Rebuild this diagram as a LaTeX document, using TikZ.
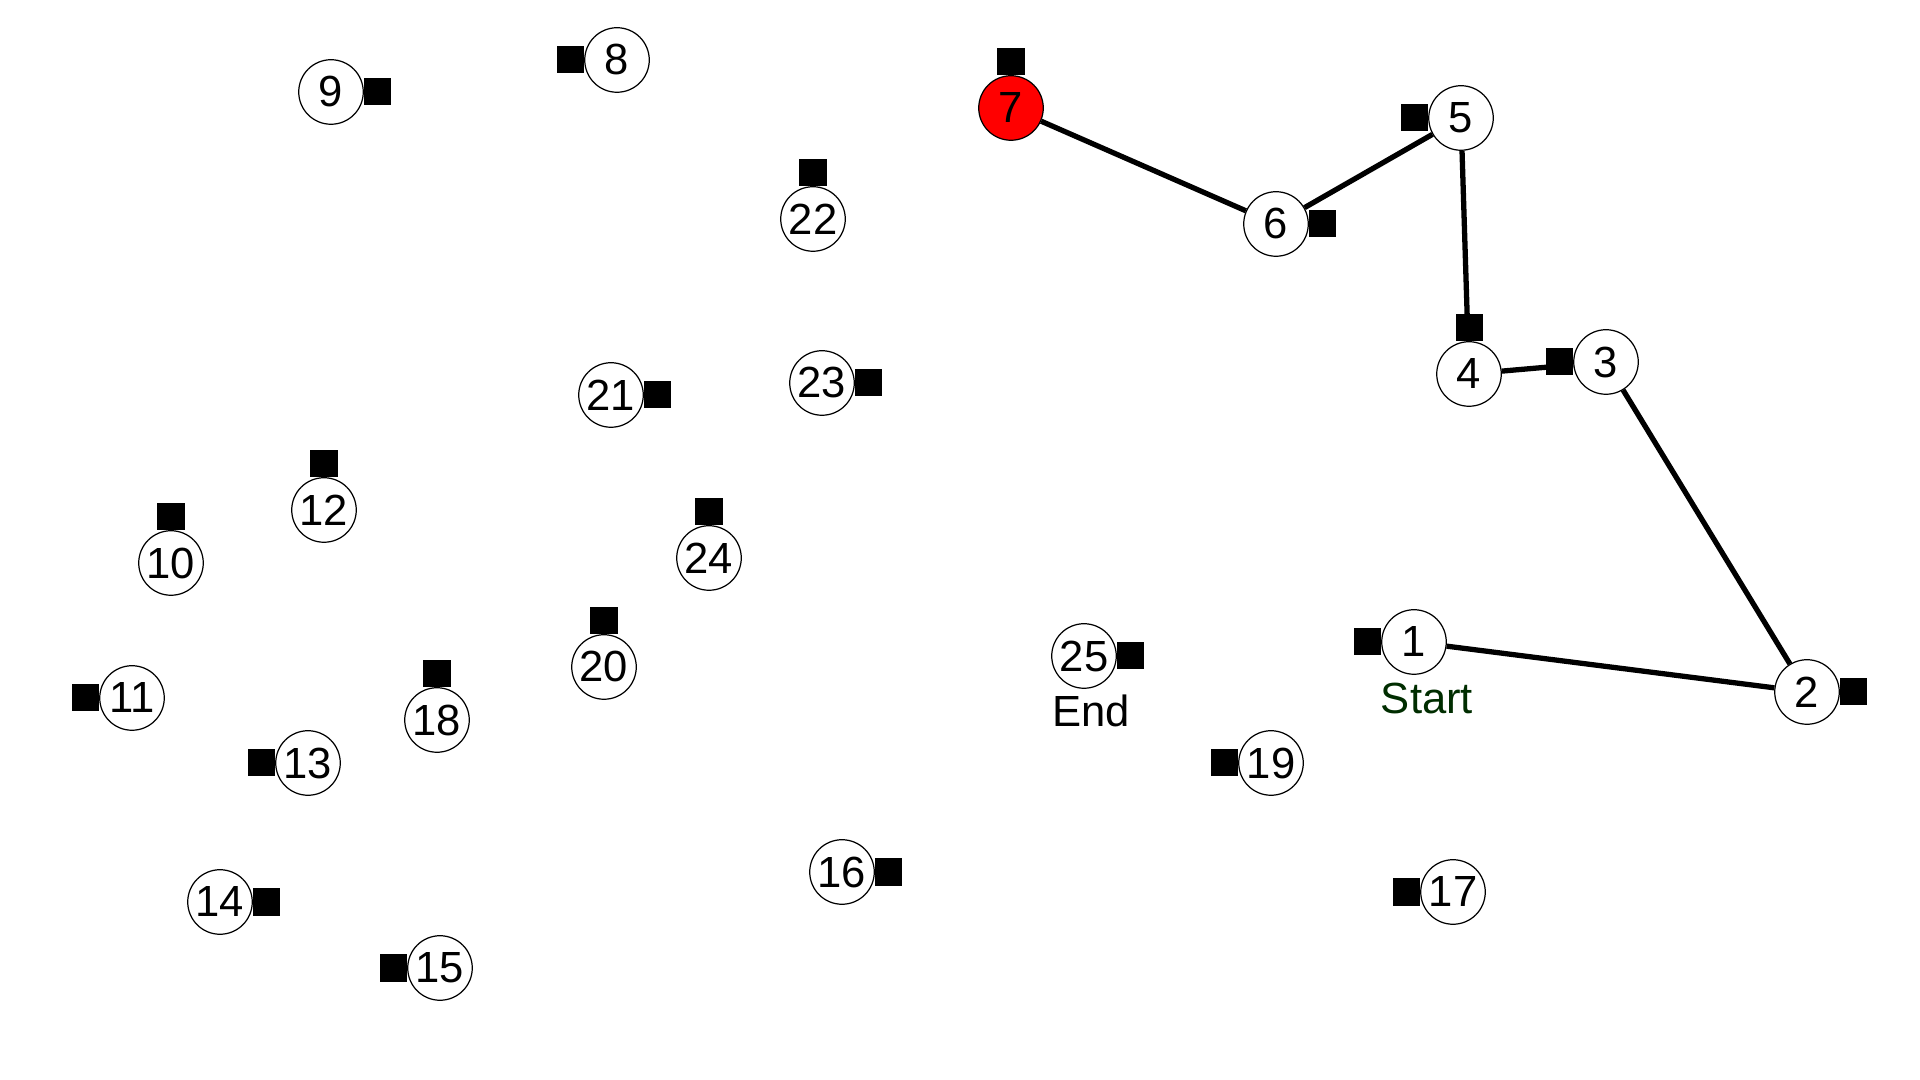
\documentclass[tikz,border=0pt]{standalone}
\usepackage{fontspec}
\setmainfont{Liberation Sans}
\definecolor{startgreen}{RGB}{0,45,0}
\begin{document}
\begin{tikzpicture}[x=0.01cm,y=-0.01cm,
  city/.style={circle,draw=black,line width=0.35pt,fill=white,minimum size=0.645cm,inner sep=0pt,font=\fontsize{12.4}{14}\selectfont},
  visited/.style={city,fill=red},
  depot/.style={fill=black,minimum size=0.27cm,inner sep=0pt,outer sep=0pt},
  route/.style={line width=1.5pt},
  lbl/.style={font=\fontsize{12.4}{14}\selectfont,inner sep=0pt,anchor=base}]
\useasboundingbox (0,0) rectangle (1920,1080);
% cities
\node[city] (n1) at (1414,642) {1};
\node[city] (n2) at (1807,692) {2};
\node[city] (n3) at (1606,362) {3};
\node[city] (n4) at (1469,374) {4};
\node[city] (n5) at (1461,118) {5};
\node[city] (n6) at (1276,224) {6};
\node[visited] (n7) at (1011,108) {7};
\node[city] (n8) at (617,60) {8};
\node[city] (n9) at (331,92) {9};
\node[city] (n10) at (171,563) {10};
\node[city] (n11) at (132,698) {11};
\node[city] (n12) at (324,510) {12};
\node[city] (n13) at (308,763) {13};
\node[city] (n14) at (220,902) {14};
\node[city] (n15) at (440,968) {15};
\node[city] (n16) at (842,872) {16};
\node[city] (n17) at (1453,892) {17};
\node[city] (n18) at (437,720) {18};
\node[city] (n19) at (1271,763) {19};
\node[city] (n20) at (604,667) {20};
\node[city] (n21) at (611,395) {21};
\node[city] (n22) at (813,219) {22};
\node[city] (n23) at (822,383) {23};
\node[city] (n24) at (709,558) {24};
\node[city] (n25) at (1084,656) {25};
% route
\draw[route] (n1) -- (n2);
\draw[route] (n2) -- (n3);
\draw[route] (n3) -- (n4);
\draw[route] (n4) -- (n5);
\draw[route] (n5) -- (n6);
\draw[route] (n6) -- (n7);
% depots
\node[depot,anchor=east] (s1) at (n1.west) {};
\node[depot,anchor=west] (s2) at (n2.east) {};
\node[depot,anchor=east] (s3) at (n3.west) {};
\node[depot,anchor=south] (s4) at (n4.north) {};
\node[depot,anchor=east] (s5) at (n5.west) {};
\node[depot,anchor=west] (s6) at (n6.east) {};
\node[depot,anchor=south] (s7) at (n7.north) {};
\node[depot,anchor=east] (s8) at (n8.west) {};
\node[depot,anchor=west] (s9) at (n9.east) {};
\node[depot,anchor=south] (s10) at (n10.north) {};
\node[depot,anchor=east] (s11) at (n11.west) {};
\node[depot,anchor=south] (s12) at (n12.north) {};
\node[depot,anchor=east] (s13) at (n13.west) {};
\node[depot,anchor=west] (s14) at (n14.east) {};
\node[depot,anchor=east] (s15) at (n15.west) {};
\node[depot,anchor=west] (s16) at (n16.east) {};
\node[depot,anchor=east] (s17) at (n17.west) {};
\node[depot,anchor=south] (s18) at (n18.north) {};
\node[depot,anchor=east] (s19) at (n19.west) {};
\node[depot,anchor=south] (s20) at (n20.north) {};
\node[depot,anchor=west] (s21) at (n21.east) {};
\node[depot,anchor=south] (s22) at (n22.north) {};
\node[depot,anchor=west] (s23) at (n23.east) {};
\node[depot,anchor=south] (s24) at (n24.north) {};
\node[depot,anchor=west] (s25) at (n25.east) {};
% labels
\node[lbl,text=startgreen] (start) at (1427,714) {Start};
\node[lbl] (end) at (1091,727) {End};
\end{tikzpicture}
\end{document}
